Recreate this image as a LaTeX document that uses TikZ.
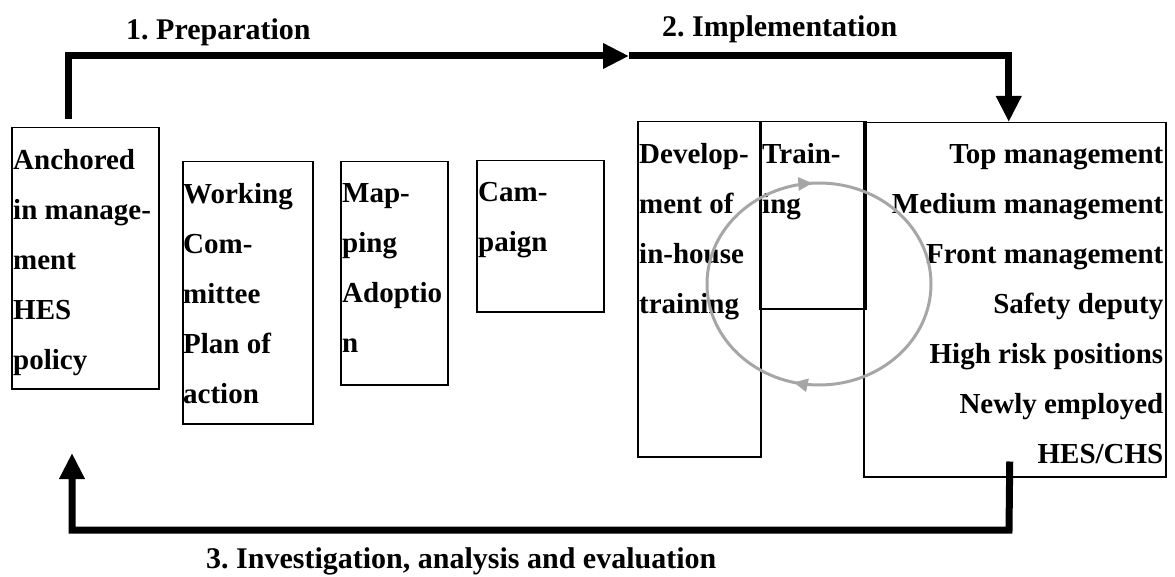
\documentclass[tikz,border=0pt]{standalone}
\usepackage{fontspec}
\setmainfont{Liberation Serif}
\usetikzlibrary{arrows.meta,positioning,decorations.markings}
\definecolor{cyclegray}{HTML}{A6A6A6}
\frenchspacing
\newcommand\boxfont{\fontsize{29}{50}\selectfont\bfseries}
\newcommand\headfont{\fontsize{30}{36}\selectfont\bfseries}
\tikzset{
  box/.style={draw, rectangle, line width=1.5pt, anchor=north west, inner sep=0pt},
  txt/.style={inner sep=0pt, align=left, font=\boxfont},
  head/.style={inner sep=0pt, anchor=base west, font=\headfont},
  flow/.style={-{Triangle[length=26pt,width=24pt]}, line width=7pt},
  cyc/.style={cyclegray, line width=3pt, postaction={decorate},
    decoration={markings,
      mark=at position 0.26 with {\arrowreversed{Triangle[length=14pt,width=13pt]}},
      mark=at position 0.712 with {\arrowreversed{Triangle[length=14pt,width=13pt]}}}},
}
\begin{document}
\begin{tikzpicture}[x=1pt, y=-1pt]
\useasboundingbox (0,0) rectangle (1175,577);

% Preparation boxes
\node[box, minimum width=147pt, minimum height=261pt] (anch) at (11,127) {};
\node[box, minimum width=130pt, minimum height=262pt] (work) at (182,161) {};
\node[box, minimum width=107pt, minimum height=223pt] (mapp) at (340,161) {};
\node[box, minimum width=127pt, minimum height=151pt] (camp) at (476,160) {};

% Implementation boxes
\node[box, minimum width=123pt, minimum height=335pt] (devel) at (637,121) {};
\node[box, minimum width=106pt, minimum height=187pt] (train) at (759,121) {};
\node[box, minimum width=302pt, minimum height=354pt] (groups) at (863,122) {};

% Box texts
\node[txt, below right=22pt and 2pt of anch.north west] (anch-t)
  {Anchored\\in manage-\\ment\\HES\\policy};
\node[txt, below right=22pt and 1pt of work.north west] (work-t)
  {Working\\Com-\\mittee\\Plan of\\action};
\node[txt, below right=22pt and 2pt of mapp.north west] (mapp-t)
  {Map-\\ping\\Adoptio\\n};
\node[txt, below right=22pt and 2pt of camp.north west] (camp-t)
  {Cam-\\paign};
\node[txt, below right=22pt and 2pt of devel.north west] (devel-t)
  {Develop-\\ment of\\in-house\\training};
\node[txt, below right=22pt and 3pt of train.north west] (train-t)
  {Train-\\ing};
\node[txt, align=right, below left=22pt and 3pt of groups.north east] (groups-t)
  {Top management\\Medium management\\Front management\\Safety deputy\\High risk positions\\Newly employed\\HES/CHS};

% Training cycle
\draw[cyc] (819,284) ellipse [x radius=112pt, y radius=101pt];

% Phase labels
\node[head] (prep-l) at (126,40) {1. Preparation};
\node[head] (impl-l) at (662,37) {2. Implementation};
\node[head] (eval-l) at (206,568) {3. Investigation, analysis and evaluation};

% Main loop
\coordinate (prep) at (629,56);
\coordinate (eval) at (1009,530);
\coordinate (back) at (72,453);
\draw[flow] ([xshift=-17pt,yshift=8pt]anch.north) |- (prep);
\draw[flow] (prep) -| ([xshift=-6pt]groups.north);
\draw[flow] ([xshift=-5pt,yshift=16pt]groups.south) -- (eval) -| (back);

\end{tikzpicture}
\end{document}
